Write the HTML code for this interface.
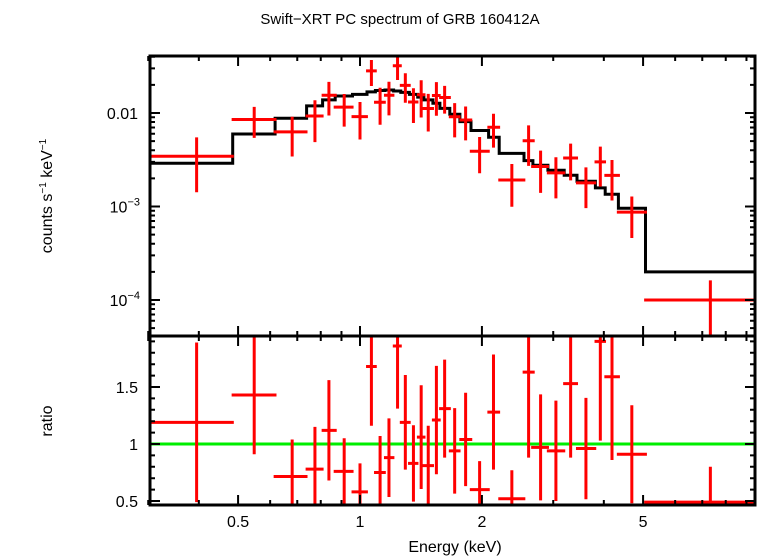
<!DOCTYPE html>
<html><head><meta charset="utf-8"><style>
html,body{margin:0;padding:0;background:#fff;}
svg{display:block;font-family:"Liberation Sans",sans-serif;}
</style></head><body>
<svg id="chart" width="758" height="556" viewBox="0 0 758 556">
<text x="400" y="24" font-size="15" text-anchor="middle">Swift−XRT PC spectrum of GRB 160412A</text>
<text transform="translate(52,196) rotate(-90)" font-size="16" text-anchor="middle">counts s<tspan font-size="10" dy="-6">−1</tspan><tspan dy="6"> keV</tspan><tspan font-size="10" dy="-6">−1</tspan></text>
<text transform="translate(52,421) rotate(-90)" font-size="16" text-anchor="middle">ratio</text>
<text x="455" y="552" font-size="16" text-anchor="middle">Energy (keV)</text>
<g id="g"></g>
</svg>
<script>
const eCen=[0.395,0.548,0.68,0.774,0.838,0.914,1.0,1.067,1.121,1.179,1.238,1.294,1.355,1.416,1.474,1.544,1.618,1.713,1.823,1.974,2.136,2.371,2.608,2.792,3.046,3.312,3.613,3.921,4.19,4.69,7.33];
const eLo=[0.303,0.482,0.612,0.734,0.804,0.861,0.953,1.035,1.083,1.146,1.205,1.254,1.314,1.382,1.426,1.505,1.568,1.657,1.759,1.867,2.063,2.195,2.521,2.646,2.893,3.174,3.414,3.794,4.012,4.307,5.03];
const eHi=[0.488,0.622,0.742,0.813,0.876,0.964,1.046,1.100,1.158,1.216,1.268,1.334,1.394,1.451,1.523,1.582,1.676,1.771,1.893,2.091,2.218,2.56,2.70,2.928,3.212,3.454,3.831,4.05,4.383,5.11,9.6];
const counts=[0.00345,0.00852,0.00628,0.00928,0.01546,0.01155,0.00916,0.0282,0.01305,0.01549,0.032,0.01975,0.01311,0.01569,0.01118,0.01537,0.01467,0.00912,0.00842,0.0039,0.00704,0.00192,0.00505,0.00268,0.00229,0.0033,0.00179,0.003,0.00215,0.00087,0.0001];
const countErr=[0.00203,0.0031,0.00285,0.0044,0.00607,0.00441,0.00395,0.00874,0.00557,0.00607,0.00946,0.00689,0.00529,0.00673,0.00483,0.00603,0.00482,0.00364,0.00332,0.00163,0.00278,0.000925,0.00233,0.00128,0.00107,0.0014,0.00083,0.00137,0.00099,0.00041,0.000062];
const model=[0.0029,0.00596,0.00878,0.0119,0.0138,0.0152,0.0158,0.0168,0.0174,0.0176,0.0172,0.0166,0.0158,0.0148,0.0138,0.0127,0.0112,0.0097,0.0081,0.0065,0.0055,0.0037,0.0031,0.00276,0.00244,0.00216,0.00186,0.00158,0.00135,0.00096,0.0002];
const ratio=[1.19,1.43,0.715,0.78,1.12,0.76,0.58,1.68,0.75,0.88,1.86,1.19,0.83,1.06,0.81,1.21,1.31,0.94,1.04,0.6,1.28,0.52,1.63,0.97,0.94,1.53,0.96,1.9,1.59,0.91,0.49];
const ratioErr=[0.7,0.52,0.325,0.37,0.44,0.29,0.25,0.52,0.32,0.345,0.55,0.415,0.335,0.455,0.35,0.475,0.43,0.375,0.41,0.25,0.505,0.25,0.75,0.465,0.44,0.65,0.445,0.87,0.73,0.43,0.31];
const xMajor=[0.5,1,2,5];
const xMinor=[0.3,0.4,0.6,0.7,0.8,0.9,3,4,6,7,8,9];
const ratioTicks=[0.5,1,1.5];

const L=150,R=755,T1=56,B1=336,B2=505;
const NS="http://www.w3.org/2000/svg";
const g=document.getElementById('g');
const xs=e=>360+405*Math.log10(e);
const ys=v=>113-93.5*(Math.log10(v)+2);
const yr=r=>444-114*(r-1);
function mk(tag,at,parent){const el=document.createElementNS(NS,tag);for(const k in at)el.setAttribute(k,at[k]);(parent||g).appendChild(el);return el;}
const clip=mk('clipPath',{id:'c1'});mk('rect',{x:L,y:T1,width:R-L,height:B1-T1},clip);
const clip2=mk('clipPath',{id:'c2'});mk('rect',{x:L,y:B1,width:R-L,height:B2-B1},clip2);
const topG=mk('g',{'clip-path':'url(#c1)'});


const botG=mk('g',{'clip-path':'url(#c2)'});


let d='';
for(let i=0;i<model.length;i++){
  const a=i==0?eLo[0]:Math.sqrt(eHi[i-1]*eLo[i]);
  const b=i==model.length-1?eHi[i]:Math.sqrt(eHi[i]*eLo[i+1]);
  d+=(i==0?'M':'L')+xs(a).toFixed(1)+','+ys(model[i]).toFixed(1)+'L'+xs(b).toFixed(1)+','+ys(model[i]).toFixed(1);
}
const mp=mk('path',{d:d,fill:'none',stroke:'#000','stroke-width':3},topG);


for(let i=0;i<counts.length;i++){
  const y=ys(counts[i]),x=xs(eCen[i]);
  const lo=Math.max(counts[i]-countErr[i],1e-6);
  const p=mk('path',{d:`M${xs(eLo[i])},${y}H${xs(eHi[i])}M${x},${ys(counts[i]+countErr[i])}V${ys(lo)}`,stroke:'#f00','stroke-width':3,fill:'none'},topG);
  
  
}
const gl=mk('line',{x1:L,x2:R,y1:yr(1),y2:yr(1),stroke:'#0e0','stroke-width':3},botG);


for(let i=0;i<ratio.length;i++){
  const y=yr(ratio[i]),x=xs(eCen[i]);
  const p=mk('path',{d:`M${xs(eLo[i])},${y}H${xs(eHi[i])}M${x},${yr(ratio[i]+ratioErr[i])}V${yr(ratio[i]-ratioErr[i])}`,stroke:'#f00','stroke-width':3,fill:'none'},botG);
  
  
}
const f1=mk('rect',{x:L,y:T1,width:R-L,height:B1-T1,fill:'none',stroke:'#000','stroke-width':3});


const f2=mk('rect',{x:L,y:B1,width:R-L,height:B2-B1,fill:'none',stroke:'#000','stroke-width':3});


let td='';
xMajor.forEach(e=>{const x=xs(e);td+=`M${x},${T1}v10M${x},${B1-10}v20M${x},${B2}v-10`;});
xMinor.forEach(e=>{const x=xs(e);td+=`M${x},${T1}v5M${x},${B1-5}v10M${x},${B2}v-5`;});
for(let dec=-5;dec<=-1;dec++)for(let m=1;m<10;m++){const v=m*Math.pow(10,dec);const y=ys(v);if(y<T1||y>B1)continue;const len=m==1?10:5;td+=`M${L},${y}h${len}M${R},${y}h${-len}`;}
for(let k=5;k<=19;k++){const r=k/10;const y=yr(r);const maj=(k%5==0);const len=maj?10:5;td+=`M${L},${y}h${len}M${R},${y}h${-len}`;}
const tk=mk('path',{d:td,stroke:'#000','stroke-width':2,fill:'none'});


xMajor.forEach(e=>{const t=mk('text',{x:xs(e),y:527,'font-size':16,'text-anchor':'middle'});t.textContent=String(e);

});
ratioTicks.forEach(r=>{const t=mk('text',{x:138,y:yr(r)+6,'font-size':16,'text-anchor':'end'});t.textContent=String(r);

});
const t0=mk('text',{x:138,y:ys(0.01)+6,'font-size':16,'text-anchor':'end'});t0.textContent='0.01';


[-3,-4].forEach(p=>{const t=mk('text',{x:120,y:ys(Math.pow(10,p))+6,'font-size':16,'text-anchor':'end'});t.textContent='10';
const s=mk('tspan',{'font-size':11,dy:-7},t);s.textContent='−'+(-p);
t.setAttribute('x',140);

});
</script>
</body></html>
